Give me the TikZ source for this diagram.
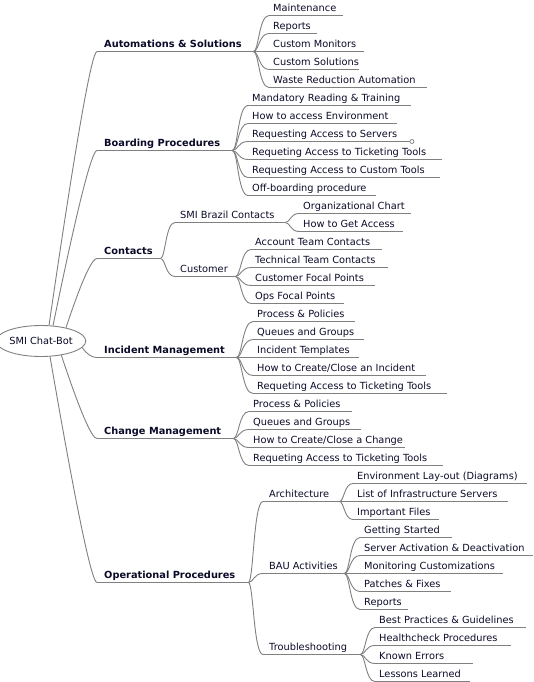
\documentclass[tikz,border=0pt]{standalone}
\usepackage{fontspec}
\setmainfont{DejaVu Sans}
\usetikzlibrary{calc,shapes.geometric}
\definecolor{txt}{HTML}{0A0A28}
\definecolor{edge}{HTML}{808080}
\newcommand\mmnode[7]{%
  \pgfmathsetmacro\mmpad{#4-#3}%
  \pgfmathsetmacro\mmtw{#5-#4-\mmpad}%
  \node[#1, anchor=south west, inner xsep=\mmpad pt] (#2) at (#3,#6) {\makebox[\mmtw pt][l]{#7}};%
  \draw[uline] (#2.south west) -- (#2.south east);%
}
\begin{document}
\begin{tikzpicture}[x=1pt,y=-1pt,
  every node/.style={font=\fontsize{9.8}{12}\selectfont, text=txt},
  topic/.style={text height=8pt, text depth=4pt, inner ysep=0pt},
  mainb/.style={topic, font=\fontsize{9.8}{12}\selectfont\bfseries},
  leaf/.style={topic},
  uline/.style={draw=edge, line width=0.9pt},
  link/.style={draw=edge, line width=0.9pt},
  rootnode/.style={ellipse, draw=edge, fill=white, line width=0.9pt, minimum width=81pt, minimum height=31pt, inner sep=0pt},
  collapsed/.style={circle, draw=edge, fill=white, line width=0.7pt, minimum size=4pt, inner sep=0pt},
  rootlink/.style={to path={let \p1=(\tikztostart), \p2=(\tikztotarget) in .. controls ({\x1+0.667*(\x2-8pt-\x1)},{\y1+0.667*(\y2-\y1)}) and ({\x2-5.33pt},\y2) .. (\tikztotarget)}},
  fanlink/.style={to path={let \p1=(\tikztostart), \p2=(\tikztotarget), \n1={0.35*(\x2-\x1)} in .. controls ({\x1+\n1},\y1) and ({\x1+\n1},\y2) .. (\tikztotarget)}},
]
\useasboundingbox (0,0) rectangle (534,682);

% root
\node[rootnode] (root) at (41,341) {SMI Chat-Bot};

% main branches
\mmnode{mainb}{A}{97}{104}{253}{51.5}{Automations \& Solutions}
\mmnode{mainb}{B}{97}{104}{232}{150.5}{Boarding Procedures}
\mmnode{mainb}{C}{97}{104}{160}{258.5}{Contacts}
\mmnode{mainb}{I}{97}{104}{236}{357.5}{Incident Management}
\mmnode{mainb}{H}{97}{104}{233}{438.5}{Change Management}
\mmnode{mainb}{O}{97}{104}{248}{582.5}{Operational Procedures}

% Automations
\mmnode{leaf}{A1}{269}{273}{343}{15.5}{Maintenance}
\mmnode{leaf}{A2}{269}{273}{317}{33.5}{Reports}
\mmnode{leaf}{A3}{269}{273}{364}{51.5}{Custom Monitors}
\mmnode{leaf}{A4}{269}{273}{359}{69.5}{Custom Solutions}
\mmnode{leaf}{A5}{269}{273}{427}{87.5}{Waste Reduction Automation}

% Boarding
\mmnode{leaf}{B1}{248}{252}{411}{105.5}{Mandatory Reading \& Training}
\mmnode{leaf}{B2}{248}{252}{397}{123.5}{How to access Environment}
\mmnode{leaf}{B3}{248}{252}{409.5}{141.5}{Requesting Access to Servers}
\mmnode{leaf}{B4}{248}{252}{442}{159.5}{Requeting Access to Ticketing Tools}
\mmnode{leaf}{B5}{248}{252}{440}{177.5}{Requesting Access to Custom Tools}
\mmnode{leaf}{B6}{248}{252}{376}{195.5}{Off-boarding procedure}
\node[collapsed] (B3c) at ($(B3.south east)+(2,0)$) {};

% Contacts
\mmnode{leaf}{C1}{175}{180}{285}{222.5}{SMI Brazil Contacts}
\mmnode{leaf}{C2}{175}{180}{235}{276.5}{Customer}
\mmnode{leaf}{C11}{299}{303}{411}{213.5}{Organizational Chart}
\mmnode{leaf}{C12}{299}{303}{403}{231.5}{How to Get Access}
\mmnode{leaf}{C21}{251}{255}{382}{249.5}{Account Team Contacts}
\mmnode{leaf}{C22}{251}{255}{388}{267.5}{Technical Team Contacts}
\mmnode{leaf}{C23}{251}{255}{375}{285.5}{Customer Focal Points}
\mmnode{leaf}{C24}{251}{255}{344}{303.5}{Ops Focal Points}

% Incident
\mmnode{leaf}{I1}{253}{257}{355}{321.5}{Process \& Policies}
\mmnode{leaf}{I2}{253}{257}{364}{339.5}{Queues and Groups}
\mmnode{leaf}{I3}{253}{257}{359}{357.5}{Incident Templates}
\mmnode{leaf}{I4}{253}{257}{426}{375.5}{How to Create/Close an Incident}
\mmnode{leaf}{I5}{253}{257}{447}{393.5}{Requeting Access to Ticketing Tools}

% Change
\mmnode{leaf}{H1}{249}{253}{352}{411.5}{Process \& Policies}
\mmnode{leaf}{H2}{249}{253}{361}{429.5}{Queues and Groups}
\mmnode{leaf}{H3}{249}{253}{405}{447.5}{How to Create/Close a Change}
\mmnode{leaf}{H4}{249}{253}{443}{465.5}{Requeting Access to Ticketing Tools}

% Operational
\mmnode{leaf}{O1}{263}{269}{339}{501.5}{Architecture}
\mmnode{leaf}{O2}{263}{269}{344}{573.5}{BAU Activities}
\mmnode{leaf}{O3}{263}{269}{360}{654.5}{Troubleshooting}
\mmnode{leaf}{O11}{353}{357}{527}{483.5}{Environment Lay-out (Diagrams)}
\mmnode{leaf}{O12}{353}{357}{508}{501.5}{List of Infrastructure Servers}
\mmnode{leaf}{O13}{353}{357}{439}{519.5}{Important Files}
\mmnode{leaf}{O21}{360}{364}{452}{537.5}{Getting Started}
\mmnode{leaf}{O22}{360}{364}{533}{555.5}{Server Activation \& Deactivation}
\mmnode{leaf}{O23}{360}{364}{503}{573.5}{Monitoring Customizations}
\mmnode{leaf}{O24}{360}{364}{451}{591.5}{Patches \& Fixes}
\mmnode{leaf}{O25}{360}{364}{408}{609.5}{Reports}
\mmnode{leaf}{O31}{375}{379}{526}{627.5}{Best Practices \& Guidelines}
\mmnode{leaf}{O32}{375}{379}{511}{645.5}{Healthcheck Procedures}
\mmnode{leaf}{O33}{375}{379}{473}{663.5}{Known Errors}
\mmnode{leaf}{O34}{375}{379}{470}{681.5}{Lessons Learned}

% root connectors
\foreach \dst/\ang in {A/63,B/52,C/28,I/-9,H/-35,O/-60}
  \draw[link] (root.\ang) to[rootlink] (\dst.south west);

% fan connectors
\foreach \src/\dst in {A/A1,A/A2,A/A3,A/A4,A/A5,
  B/B1,B/B2,B/B3,B/B4,B/B5,B/B6,
  C/C1,C/C2,C1/C11,C1/C12,C2/C21,C2/C22,C2/C23,C2/C24,
  I/I1,I/I2,I/I3,I/I4,I/I5,
  H/H1,H/H2,H/H3,H/H4,
  O/O1,O/O2,O/O3,O1/O11,O1/O12,O1/O13,
  O2/O21,O2/O22,O2/O23,O2/O24,O2/O25,
  O3/O31,O3/O32,O3/O33,O3/O34}
  \draw[link] (\src.south east) to[fanlink] (\dst.south west);
\end{tikzpicture}
\end{document}
